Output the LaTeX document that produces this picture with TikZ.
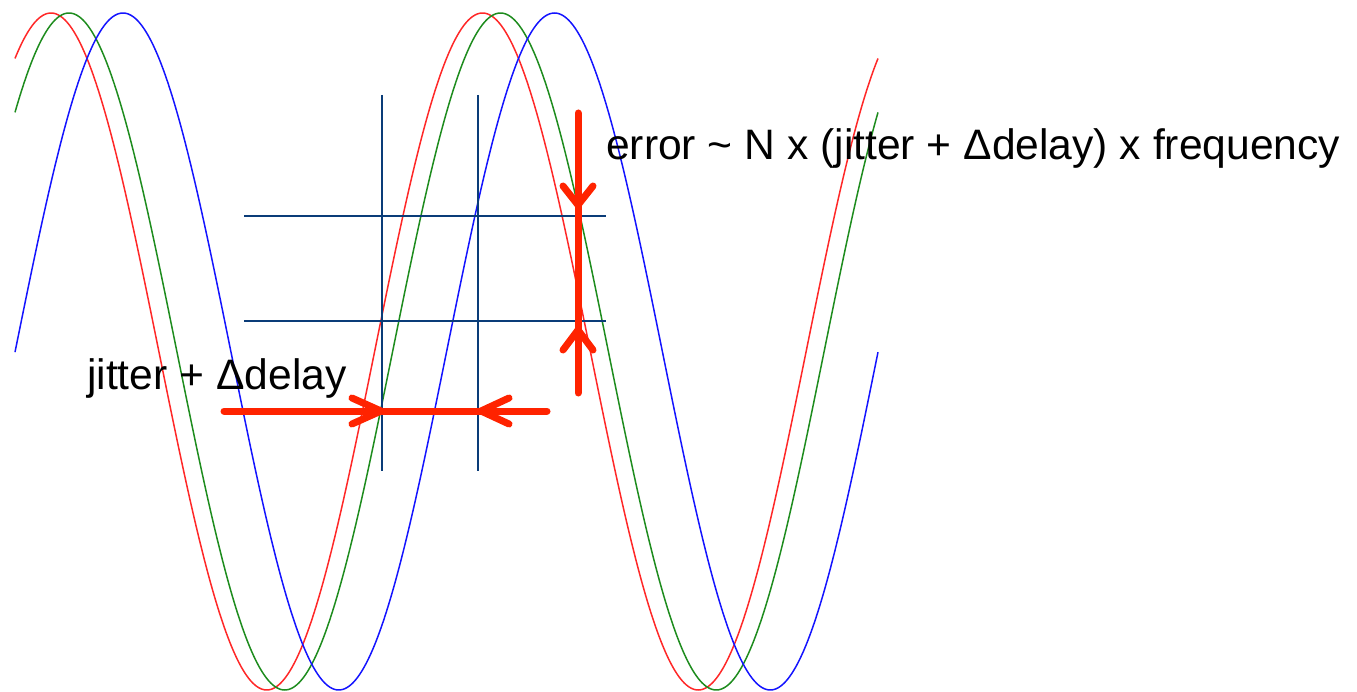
\documentclass[tikz,border=0pt]{standalone}
\usepackage{fontspec}
\setmainfont{Liberation Sans}
\definecolor{wavered}{RGB}{255,40,40}
\definecolor{wavegreen}{RGB}{30,140,30}
\definecolor{waveblue}{RGB}{20,20,255}
\definecolor{gridnavy}{RGB}{10,60,120}
\definecolor{arrowred}{RGB}{255,35,0}
\tikzset{
  wave/.style={line width=1.5pt},
  gridline/.style={gridnavy, line width=1.8pt},
  redarrow/.style={arrowred, line width=7pt, line cap=round, line join=round},
  label/.style={anchor=base west, inner sep=0pt, font=\fontsize{42.6}{50}\selectfont},
}
\begin{document}
\begin{tikzpicture}[x=1pt,y=-1pt]
\useasboundingbox (0,0) rectangle (1357,692);
% waves
\draw[wave, wavered] plot[domain=15:878, samples=500, smooth] (\x, {351.5-338.5*cos((\x-51)/431.5*360)});
\draw[wave, wavegreen] plot[domain=15:878, samples=500, smooth] (\x, {351.5-338.5*cos((\x-69)/431.5*360)});
\draw[wave, waveblue] plot[domain=15:878, samples=500, smooth] (\x, {351.5-338.5*cos((\x-123)/431.5*360)});
% grid lines
\coordinate (v1t) at (382,95);  \coordinate (v1b) at (382,471);
\coordinate (v2t) at (478,95);  \coordinate (v2b) at (478,471);
\coordinate (h1l) at (244,216); \coordinate (h1r) at (606,216);
\coordinate (h2l) at (244,321); \coordinate (h2r) at (606,321);
\draw[gridline] (v1t) -- (v1b);
\draw[gridline] (v2t) -- (v2b);
\draw[gridline] (h1l) -- (h1r);
\draw[gridline] (h2l) -- (h2r);
% horizontal red arrows
\coordinate (ha) at (224,411);
\coordinate (hb) at (547,411);
\coordinate (hr) at (381,411);
\coordinate (hl) at (481,411);
\draw[redarrow] (ha) -- (hb);
\draw[redarrow] (352,398) -- (hr) -- (352,424);
\draw[redarrow] (509,398) -- (hl) -- (509,424);
% vertical red arrows
\coordinate (va) at (578,113);
\coordinate (vb) at (578,393);
\coordinate (vd) at (578,205);
\coordinate (vu) at (578,330);
\draw[redarrow] (va) -- (vb);
\draw[redarrow] (563,186) -- (vd) -- (593,186);
\draw[redarrow] (563,350) -- (vu) -- (593,350);
% labels
\node[label] (err) at (606,160) {error \textasciitilde{} N x (jitter + Δdelay) x frequency};
\node[label] (jit) at (87,389) {jitter + Δdelay};
\end{tikzpicture}
\end{document}
